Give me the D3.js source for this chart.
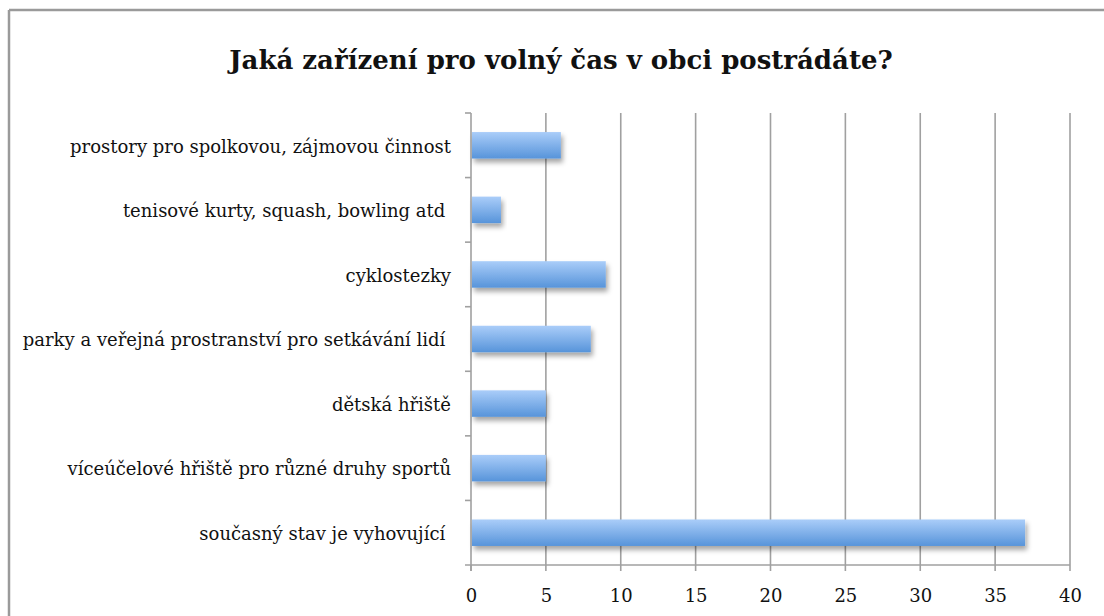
<!DOCTYPE html>
<html><head><meta charset="utf-8">
<script src="https://cdn.jsdelivr.net/npm/d3@7"></script>
<style>html,body{margin:0;padding:0;background:#fff;}svg{display:block;}</style>
</head><body>
<svg id="chart" width="1104" height="616"></svg>
<script>
const title = "Jaká zařízení pro volný čas v obci postrádáte?";
const categories = [
  "prostory pro spolkovou, zájmovou činnost",
  "tenisové kurty, squash, bowling atd ",
  "cyklostezky",
  "parky a veřejná prostranství pro setkávání lidí ",
  "dětská hřiště",
  "víceúčelové hřiště pro různé druhy sportů",
  "současný stav je vyhovující "
];
const values = [6, 2, 9, 8, 5, 5, 37];
const xTicks = [0, 5, 10, 15, 20, 25, 30, 35, 40];

const svg = d3.select("#chart");
const font = "'DejaVu Serif', serif";
const m = {left: 471, right: 1070, top: 113, bottom: 565};

// chart frame
svg.append("line").attr("x1", 9).attr("x2", 1104).attr("y1", 10).attr("y2", 10)
  .attr("stroke", "#9a9a9a").attr("stroke-width", 2.5);
svg.append("line").attr("x1", 9).attr("x2", 9).attr("y1", 10).attr("y2", 616)
  .attr("stroke", "#9a9a9a").attr("stroke-width", 2.5);

const defs = svg.append("defs");
const grad = defs.append("linearGradient").attr("id", "barGrad")
  .attr("x1", 0).attr("y1", 0).attr("x2", 0).attr("y2", 1);
grad.append("stop").attr("offset", "0%").attr("stop-color", "#aacdf9");
grad.append("stop").attr("offset", "100%").attr("stop-color", "#5794da");
const f = defs.append("filter").attr("id", "shadow").attr("x", "-10%").attr("y", "-30%").attr("width", "130%").attr("height", "190%");
f.append("feDropShadow").attr("dx", 2).attr("dy", 4).attr("stdDeviation", 2.5)
  .attr("flood-color", "#000").attr("flood-opacity", 0.35);

const x = d3.scaleLinear().domain([0, 40]).range([m.left, m.right]);
const y = d3.scaleBand().domain(categories).range([m.top, m.bottom]).paddingInner(0.59).paddingOuter(0.295);

// gridlines + x axis
const xAxis = d3.axisBottom(x).tickValues(xTicks).tickSize(0).tickPadding(0);
const gx = svg.append("g").attr("transform", `translate(0,${m.bottom})`).call(xAxis);
gx.select(".domain").remove();
gx.selectAll(".tick line").remove();
gx.selectAll(".tick text").attr("y", 31).attr("dy", "0.35em")
  .attr("font-family", font).attr("font-size", 18).attr("fill", "#111");
svg.append("g").selectAll("line").data(xTicks).join("line")
  .attr("x1", d => x(d)).attr("x2", d => x(d))
  .attr("y1", d => d === 0 ? m.bottom : m.top).attr("y2", m.bottom + 6)
  .attr("stroke", "#a0a0a0").attr("stroke-width", 1.6);
svg.append("line").attr("x1", m.left - 6).attr("x2", m.right).attr("y1", m.bottom).attr("y2", m.bottom)
  .attr("stroke", "#a0a0a0").attr("stroke-width", 1.6);

// y axis
svg.append("line").attr("x1", m.left).attr("x2", m.left).attr("y1", m.top).attr("y2", m.bottom + 6)
  .attr("stroke", "#a0a0a0").attr("stroke-width", 1.6);
const step = y.step();
const bounds = d3.range(categories.length).map(i => m.top + i * step);
svg.append("g").selectAll("line").data(bounds).join("line")
  .attr("x1", m.left - 6).attr("x2", m.left).attr("y1", d => d).attr("y2", d => d)
  .attr("stroke", "#a0a0a0").attr("stroke-width", 1.6);

// bars
svg.append("g").selectAll("rect").data(values).join("rect")
  .attr("x", x(0) + 1).attr("y", (d, i) => y(categories[i]))
  .attr("width", d => x(d) - x(0) - 1).attr("height", y.bandwidth())
  .attr("fill", "url(#barGrad)").attr("filter", "url(#shadow)");

// category labels
svg.append("g").selectAll("text").data(categories).join("text")
  .attr("x", 451).attr("y", d => y(d) + y.bandwidth() / 2 + 1).attr("dy", "0.35em")
  .attr("text-anchor", "end").attr("font-family", font).attr("font-size", 18)
  .attr("fill", "#111").style("white-space", "pre").text(d => d);

// title
svg.append("text").attr("x", 561).attr("y", 69).attr("text-anchor", "middle")
  .attr("font-family", font).attr("font-weight", "bold").attr("font-size", 26)
  .attr("fill", "#111").text(title);
</script>
</body></html>
